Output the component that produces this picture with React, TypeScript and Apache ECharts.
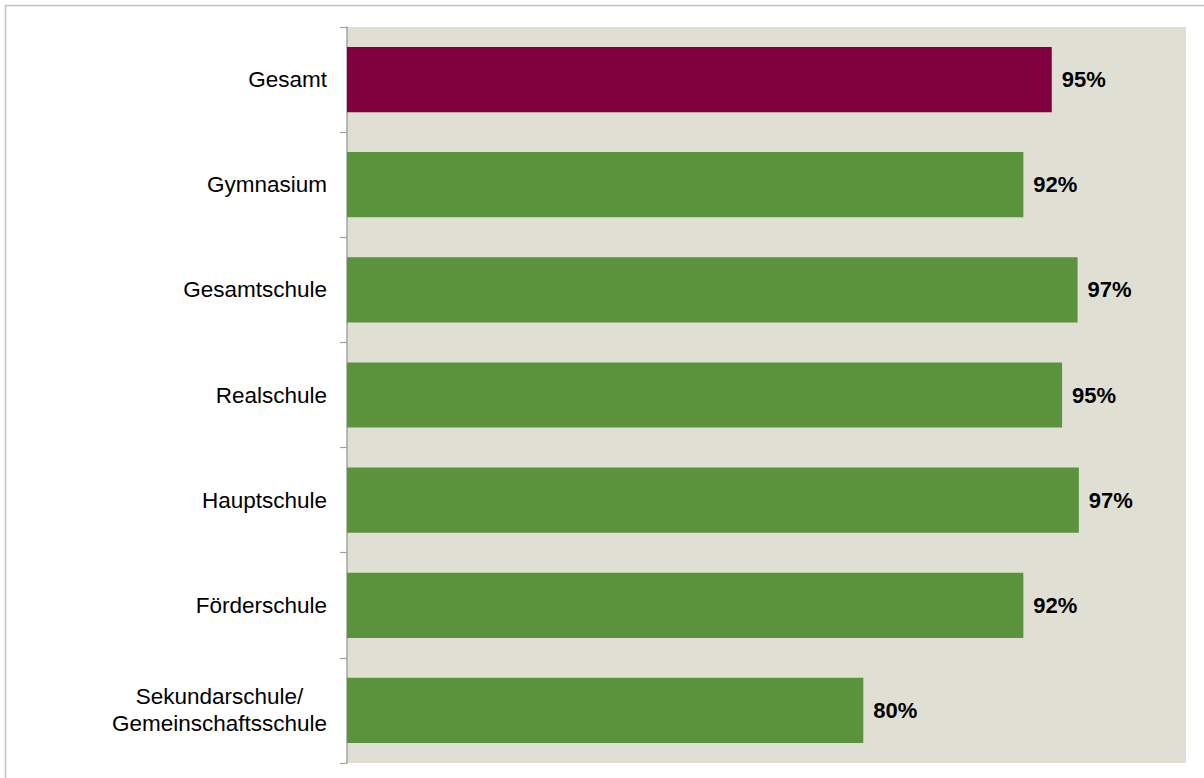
import React, { useEffect, useRef } from "react";
import * as echarts from "echarts";

const categories = [
  "Gesamt",
  "Gymnasium",
  "Gesamtschule",
  "Realschule",
  "Hauptschule",
  "Förderschule",
  "Sekundarschule/\nGemeinschaftsschule",
];
const values = [94.6, 92.4, 96.6, 95.4, 96.7, 92.4, 80.0];
const highlightCategory = "Gesamt";

export default function App() {
  const ref = useRef<HTMLDivElement>(null);
  useEffect(() => {
    if (!ref.current) return;
    const chart = echarts.init(ref.current, null, { renderer: "svg" });
    const data = values.map((v, i) => ({
      value: v,
      itemStyle: { color: categories[i] === highlightCategory ? "#7f003d" : "#5b923c" },
    }));
    chart.setOption({
      animation: false,
      backgroundColor: "#ffffff",
      graphic: [
        {
          type: "rect",
          shape: { x: 5.5, y: 5.5, width: 1300, height: 900 },
          style: { fill: "none", stroke: "#c4c4c4", lineWidth: 1.5 },
          silent: true,
        },
      ],
      grid: {
        left: 347,
        top: 27,
        width: 839,
        height: 736,
        show: true,
        backgroundColor: "#dfe0d3",
        borderWidth: 0,
      },
      xAxis: {
        type: "value",
        min: 40,
        max: 105,
        show: false,
      },
      yAxis: {
        type: "category",
        inverse: true,
        data: categories,
        axisLine: { show: true, lineStyle: { color: "#a3a3a3", width: 1.5 } },
        axisTick: { show: true, length: 7, lineStyle: { color: "#a3a3a3", width: 1.2 } },
        axisLabel: {
          margin: 20,
          fontFamily: "Liberation Sans, Arial, sans-serif",
          fontSize: 22.5,
          color: "#000000",
          align: "right",
          lineHeight: 27,
          formatter: (val: string) =>
            val
              .split("\n")
              .map((l) => `{c|${l}}`)
              .join("\n"),
          rich: {
            c: {
              align: "center",
              fontFamily: "Liberation Sans, Arial, sans-serif",
              fontSize: 22.5,
              lineHeight: 27,
              color: "#000000",
            },
          },
        },
        splitLine: { show: false },
      },
      series: [
        {
          type: "bar",
          data,
          barCategoryGap: "38%",
          label: {
            show: true,
            position: "right",
            distance: 10,
            formatter: (p: any) => `${Math.round(p.value)}%`,
            fontFamily: "Liberation Sans, Arial, sans-serif",
            fontWeight: "bold",
            fontSize: 22,
            color: "#000000",
          },
        },
      ],
    });
    return () => chart.dispose();
  }, []);
  return (
    <div
      ref={ref}
      style={{ position: "absolute", left: 0, top: 0, width: 1204, height: 778 }}
    />
  );
}
